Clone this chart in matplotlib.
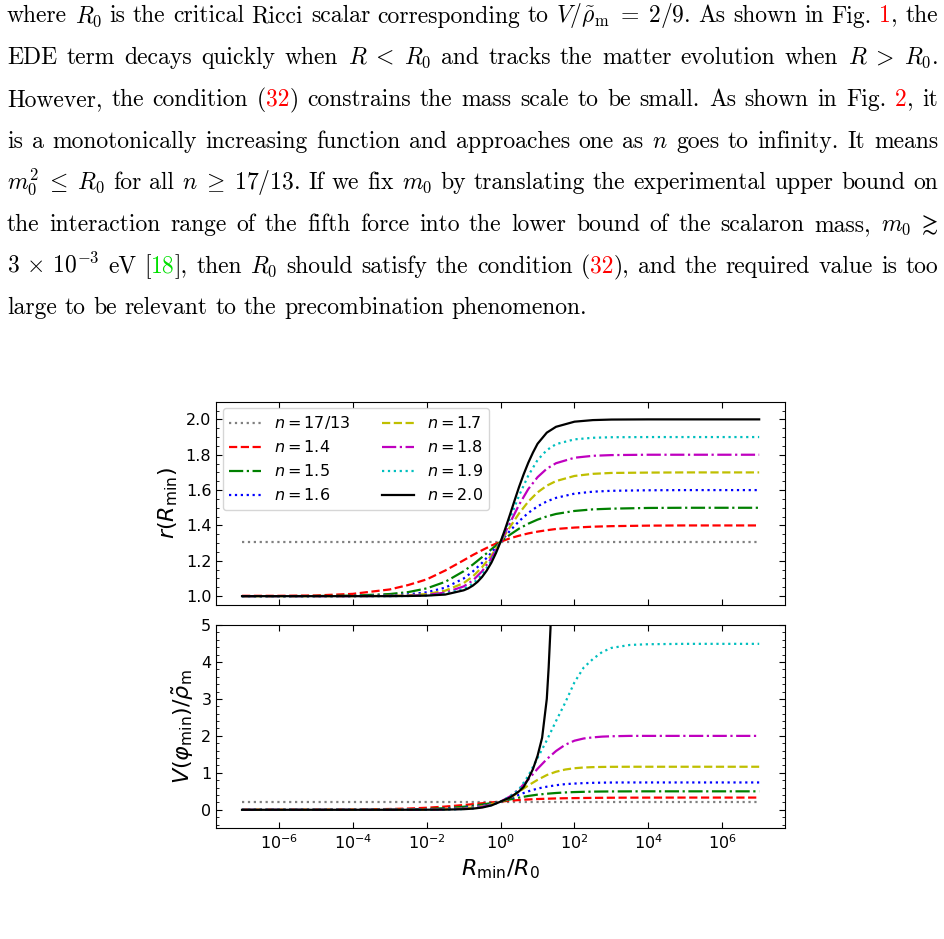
import re
import numpy as np
import matplotlib
matplotlib.use("Agg")
import matplotlib.pyplot as plt
from matplotlib.ticker import AutoMinorLocator, NullLocator
from matplotlib.transforms import IdentityTransform

# ---------------- data ----------------
# upper panel: r(R_min) against R_min/R_0
x_r = [1e-7, 1e-6, 1e-5, 1e-4, 1e-3, 3.16e-3, 1e-2, 3.16e-2, 0.1, 0.178, 0.316, 0.562,
       1.0, 1.78, 3.16, 5.62, 10.0, 17.8, 31.6, 100.0, 316.0, 1e3, 1e4, 1e5, 1e6, 1e7]
x_r2 = [1e-7, 1e-6, 1e-5, 1e-4, 1e-3, 3.16e-3, 1e-2, 3.16e-2, 0.1, 0.133, 0.178, 0.237,
        0.316, 0.422, 0.562, 0.750, 1.0, 1.33, 1.78, 2.37, 3.16, 4.22, 5.62, 7.50, 10.0,
        17.8, 31.6, 100.0, 316.0, 1e3, 1e4, 1e5, 1e6, 1e7]

n_labels = ['17/13', '1.4', '1.5', '1.6', '1.7', '1.8', '1.9', '2.0']

r_1713 = [1.3077] * 26
r_14 = [1.002, 1.002, 1.004, 1.013, 1.038, 1.063, 1.095, 1.145, 1.203, 1.233, 1.260, 1.286,
        1.308, 1.327, 1.342, 1.355, 1.365, 1.373, 1.380, 1.388, 1.393, 1.396, 1.399, 1.400, 1.400, 1.400]
r_15 = [1.000, 1.000, 1.001, 1.003, 1.012, 1.023, 1.044, 1.081, 1.141, 1.179, 1.221, 1.265,
        1.308, 1.347, 1.382, 1.410, 1.433, 1.451, 1.465, 1.482, 1.491, 1.495, 1.499, 1.500, 1.500, 1.500]
r_16 = [1.000, 1.000, 1.000, 1.001, 1.004, 1.010, 1.022, 1.048, 1.100, 1.140, 1.189, 1.246,
        1.308, 1.369, 1.424, 1.471, 1.508, 1.536, 1.556, 1.580, 1.591, 1.596, 1.599, 1.600, 1.600, 1.600]
r_17 = [1.000, 1.000, 1.000, 1.000, 1.002, 1.005, 1.012, 1.031, 1.074, 1.112, 1.164, 1.230,
        1.308, 1.390, 1.468, 1.535, 1.587, 1.625, 1.651, 1.680, 1.692, 1.697, 1.699, 1.700, 1.700, 1.700]
r_18 = [1.000, 1.000, 1.000, 1.000, 1.001, 1.002, 1.007, 1.020, 1.055, 1.089, 1.141, 1.214,
        1.308, 1.413, 1.517, 1.606, 1.673, 1.721, 1.752, 1.783, 1.794, 1.798, 1.800, 1.800, 1.800, 1.800]
r_19 = [1.000, 1.000, 1.000, 1.000, 1.000, 1.001, 1.004, 1.013, 1.041, 1.071, 1.122, 1.200,
        1.308, 1.437, 1.569, 1.682, 1.770, 1.826, 1.860, 1.887, 1.896, 1.899, 1.900, 1.900, 1.900, 1.900]
r_20 = [1.000, 1.000, 1.000, 1.000, 1.000, 1.001, 1.003, 1.009, 1.033, 1.044, 1.060, 1.081,
        1.109, 1.145, 1.189, 1.244, 1.308, 1.380, 1.459, 1.539, 1.618, 1.690, 1.755, 1.812,
        1.862, 1.925, 1.958, 1.987, 1.996, 1.999, 2.000, 2.000, 2.000, 2.000]

# lower panel: V(phi_min)/rho_m against R_min/R_0
x_v = [1e-7, 1e-6, 1e-5, 1e-4, 1e-3, 3.16e-3, 1e-2, 3.16e-2, 0.1, 0.178, 0.316, 0.562,
       1.0, 1.78, 3.16, 5.62, 10.0, 17.8, 31.6, 56.2, 100.0, 178.0, 316.0, 562.0, 1e3,
       3.16e3, 1e4, 1e5, 1e6, 1e7]
x_v2 = [1e-7, 1e-6, 1e-5, 1e-4, 1e-3, 3.16e-3, 1e-2, 3.16e-2, 0.1, 0.178, 0.316, 0.562,
        1.0, 1.78, 3.16, 4.22, 5.62, 7.50, 10.0, 13.3, 17.8, 20.0, 22.4, 25.1, 28.2, 31.6]

v_1713 = [0.2222] * 30
v_14 = [0.001, 0.002, 0.003, 0.008, 0.022, 0.034, 0.056, 0.088, 0.129, 0.153, 0.177, 0.200,
        0.222, 0.245, 0.265, 0.280, 0.292, 0.300, 0.308, 0.313, 0.317, 0.320, 0.323, 0.325,
        0.327, 0.329, 0.330, 0.331, 0.331, 0.331]
v_15 = [0.000, 0.000, 0.001, 0.002, 0.006, 0.012, 0.023, 0.044, 0.082, 0.109, 0.142, 0.181,
        0.222, 0.280, 0.330, 0.375, 0.410, 0.435, 0.455, 0.470, 0.480, 0.487, 0.492, 0.495,
        0.497, 0.499, 0.500, 0.500, 0.500, 0.500]
v_16 = [0.000, 0.000, 0.000, 0.001, 0.002, 0.005, 0.011, 0.025, 0.056, 0.081, 0.117, 0.164,
        0.222, 0.300, 0.410, 0.500, 0.575, 0.625, 0.665, 0.695, 0.710, 0.722, 0.730, 0.735,
        0.738, 0.740, 0.740, 0.740, 0.740, 0.740]
v_17 = [0.000, 0.000, 0.000, 0.000, 0.001, 0.003, 0.006, 0.016, 0.040, 0.063, 0.098, 0.150,
        0.222, 0.310, 0.490, 0.660, 0.810, 0.940, 1.030, 1.090, 1.125, 1.145, 1.155, 1.160,
        1.163, 1.165, 1.165, 1.165, 1.165, 1.165]
v_18 = [0.000, 0.000, 0.000, 0.000, 0.000, 0.001, 0.004, 0.010, 0.029, 0.049, 0.082, 0.136,
        0.222, 0.360, 0.560, 0.820, 1.110, 1.370, 1.590, 1.760, 1.870, 1.930, 1.960, 1.980,
        1.990, 2.000, 2.000, 2.000, 2.000, 2.000]
v_19 = [0.000, 0.000, 0.000, 0.000, 0.000, 0.001, 0.002, 0.007, 0.021, 0.038, 0.069, 0.125,
        0.222, 0.360, 0.550, 0.920, 1.400, 1.880, 2.400, 2.900, 3.450, 3.850, 4.080, 4.270,
        4.380, 4.460, 4.480, 4.490, 4.490, 4.490]
v_20 = [0.000, 0.000, 0.000, 0.000, 0.000, 0.001, 0.002, 0.005, 0.017, 0.032, 0.061, 0.118,
        0.222, 0.330, 0.500, 0.620, 0.840, 1.100, 1.460, 1.950, 3.000, 3.850, 4.900, 6.500,
        9.500, 15.00]

r_series = [(x_r, r_1713), (x_r, r_14), (x_r, r_15), (x_r, r_16),
            (x_r, r_17), (x_r, r_18), (x_r, r_19), (x_r2, r_20)]
v_series = [(x_v, v_1713), (x_v, v_14), (x_v, v_15), (x_v, v_16),
            (x_v, v_17), (x_v, v_18), (x_v, v_19), (x_v2, v_20)]
styles = [('gray', ':'), ('r', '--'), ('g', '-.'), ('b', ':'),
          ('y', '--'), ('m', '-.'), ('c', ':'), ('k', '-')]

# ---------------- figure ----------------
plt.rcParams['mathtext.fontset'] = 'dejavusans'
fig = plt.figure(figsize=(9.44, 9.39), dpi=100)

ax1 = fig.add_axes([0.229, 0.3557, 0.6026, 0.2165])
ax2 = fig.add_axes([0.229, 0.1179, 0.6026, 0.2165], sharex=ax1)

for lab, (xr, r), (xv, v), (c, ls) in zip(n_labels, r_series, v_series, styles):
    ax1.plot(xr, r, color=c, ls=ls, lw=1.6, label=r'$n=%s$' % lab)
    ax2.plot(xv, v, color=c, ls=ls, lw=1.6)

ax1.set_xscale('log')
ax1.set_xlim(10 ** -7.7, 10 ** 7.7)
ax1.set_ylim(0.95, 2.1)
ax2.set_ylim(-0.5, 5)
ax1.set_yticks([1.0, 1.2, 1.4, 1.6, 1.8, 2.0])
ax2.set_yticks([0, 1, 2, 3, 4, 5])
ax2.set_xticks([1e-6, 1e-4, 1e-2, 1e0, 1e2, 1e4, 1e6])
for ax in (ax1, ax2):
    ax.xaxis.set_minor_locator(NullLocator())
    ax.yaxis.set_minor_locator(AutoMinorLocator())
    ax.tick_params(which='both', direction='in', top=True, right=True, labelsize=11.5)
    ax.tick_params(which='major', length=4)
    ax.tick_params(which='minor', length=2)
plt.setp(ax1.get_xticklabels(), visible=False)

ax1.set_ylabel(r'$r(R_{\rm min})$', fontsize=16)
ax2.set_ylabel(r'$V(\varphi_{\rm min})/\tilde{\rho}_{\rm m}$', fontsize=16)
ax2.set_xlabel(r'$R_{\rm min}/R_0$', fontsize=16)
ax1.legend(loc='upper left', ncol=2, fontsize=11.5, borderaxespad=0.4)

# ---------------- paragraph above the plot ----------------
lines = [
    r"where $R_0$ is the critical Ricci scalar corresponding to $V/\tilde{\rho}_\mathrm{m}\;=\;2/9$. As shown in Fig. <r>1</r>, the",
    r"EDE term decays quickly when $R\;<\;R_0$ and tracks the matter evolution when $R\;>\;R_0$.",
    r"However, the condition (<r>32</r>) constrains the mass scale to be small. As shown in Fig. <r>2</r>, it",
    r"is a monotonically increasing function and approaches one as $n$ goes to infinity. It means",
    r"$m_0^2\;\leq\;R_0$ for all $n\;\geq\;17/13$. If we fix $m_0$ by translating the experimental upper bound on",
    r"the interaction range of the fifth force into the lower bound of the scalaron mass, $m_0\;\gtrsim$",
    r"$3\,\times\,10^{-3}$ eV [<g>18</g>], then $R_0$ should satisfy the condition (<r>32</r>), and the required value is too",
    r"large to be relevant to the precombination phenomenon.",
]
plt.rcParams['mathtext.fontset'] = 'cm'
H = 939
fs = 17
left_px, right_px = 7, 938
base0, step = 22.5, 41.7
colmap = {'r': '#ff0000', 'g': '#00e000'}
renderer = fig.canvas.get_renderer()

for i, line in enumerate(lines):
    y = H - (base0 + i * step)
    words = []
    for w in line.split(' '):
        parts = []
        for p in re.split(r'(<[rg]>.*?</[rg]>)', w):
            if not p:
                continue
            m = re.match(r'<([rg])>(.*?)</[rg]>', p)
            if m:
                parts.append((m.group(2), colmap[m.group(1)]))
            else:
                parts.append((p, 'black'))
        objs = []
        for s, c in parts:
            t = fig.text(0, y, s, transform=IdentityTransform(), fontsize=fs,
                         family='cmr10', color=c, va='baseline', ha='left')
            objs.append(t)
        words.append(objs)
    widths = [[t.get_window_extent(renderer).width for t in ws] for ws in words]
    total = sum(sum(w) for w in widths)
    if i == len(lines) - 1:
        gap = 0.33 * fs * 100 / 72
    else:
        gap = (right_px - left_px - total) / (len(words) - 1)
    x = left_px
    for ws, wd in zip(words, widths):
        for t, w in zip(ws, wd):
            t.set_x(x)
            x += w
        x += gap

fig.savefig('out.png', dpi=100)
